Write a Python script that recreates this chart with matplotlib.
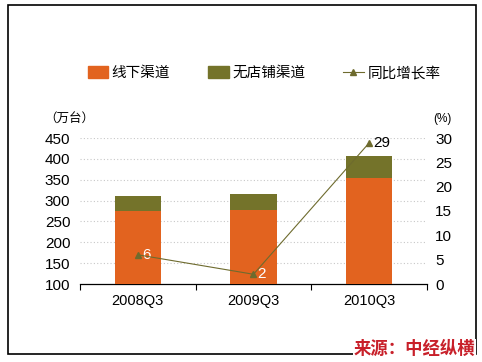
import matplotlib.pyplot as plt
from matplotlib.patches import Patch, Rectangle
from matplotlib.lines import Line2D

plt.rcParams['font.family'] = ['Liberation Sans', 'Noto Sans CJK SC', 'DejaVu Sans']

quarters = ['2008Q3', '2009Q3', '2010Q3']
offline = [276, 277, 353]      # 线下渠道 (万台)
nonstore = [34, 38, 54]        # 无店铺渠道 (万台)
growth = [6, 2, 29]            # 同比增长率 (%)

c_orange = '#E2631F'
c_olive = '#74732A'
c_line = '#6E6B2E'

fig = plt.figure(figsize=(4.82, 3.62), dpi=100)
ax = fig.add_axes([80 / 482, 1 - 284 / 362, 347 / 482, 146 / 362])
ax2 = ax.twinx()

x = list(range(len(quarters)))
ax.bar(x, offline, width=0.4, color=c_orange, bottom=0, zorder=3)
ax.bar(x, nonstore, width=0.4, bottom=offline, color=c_olive, zorder=3)
ax.set_ylim(100, 450)
ax.set_xlim(-0.5, 2.5)
ax.set_yticks(range(100, 451, 50))
for yv in range(150, 451, 50):
    ax.axhline(yv, color='#c8c8c8', lw=0.8, ls=(0, (1, 2)), zorder=1)

ax2.plot(x, growth, color=c_line, lw=0.8, marker='^', ms=4, zorder=4)
ax2.set_ylim(0, 30)
ax2.set_yticks(range(0, 31, 5))
for xi, g in zip(x, growth):
    col = 'black' if g > 20 else 'white'
    ax2.annotate(str(g), (xi, g), xytext=(3, 0), textcoords='offset points',
                 ha='left', va='center', fontsize=11, color=col)

ax.set_xticks([-0.5, 0.5, 1.5, 2.5])
ax.set_xticklabels([])
ax.set_xticks(x, minor=True)
ax.set_xticklabels(quarters, minor=True, fontsize=10.5)
ax.tick_params(axis='x', which='major', length=4, width=0.8, direction='out')
ax.tick_params(axis='x', which='minor', length=0, pad=7)
ax.tick_params(axis='y', length=0, labelsize=11, pad=7)
ax2.tick_params(axis='y', length=0, labelsize=11, pad=6)
for a in (ax, ax2):
    for s in ['top', 'left', 'right']:
        a.spines[s].set_visible(False)
    a.spines['bottom'].set_linewidth(0.9)
ax2.spines['bottom'].set_visible(False)

fig.text(44 / 482, 1 - 119 / 362, '（万台）', fontsize=9, ha='left', va='center',
         family=['Noto Sans CJK SC', 'DejaVu Sans'])
fig.text(433 / 482, 1 - 119 / 362, '(%)', fontsize=8.5, ha='left', va='center')

handles = [Patch(color=c_orange), Patch(color=c_olive),
           Line2D([], [], color=c_line, lw=0.8, marker='^', ms=4)]
fig.legend(handles, ['线下渠道', '无店铺渠道', '同比增长率'], loc='center',
           bbox_to_anchor=(264 / 482, 1 - 73 / 362), ncol=3, frameon=False,
           prop={'family': ['Noto Sans CJK SC', 'DejaVu Sans'], 'size': 10.5},
           handlelength=1.4, handleheight=0.8, handletextpad=0.25, columnspacing=2.6)

fig.patches.append(Rectangle((8 / 482, 1 - 354 / 362), 468 / 482, 349 / 362,
                             transform=fig.transFigure, fill=False, ec='black', lw=1.2))
fig.text(475 / 482, 1 - 349 / 362, '来源：中经纵横', fontsize=12.5, fontweight='bold',
         color='#C8202A', ha='right', va='center',
         family=['Noto Sans CJK SC', 'DejaVu Sans'],
         bbox=dict(fc='white', ec='none', pad=0.5))

fig.savefig('out.png', dpi=100)
